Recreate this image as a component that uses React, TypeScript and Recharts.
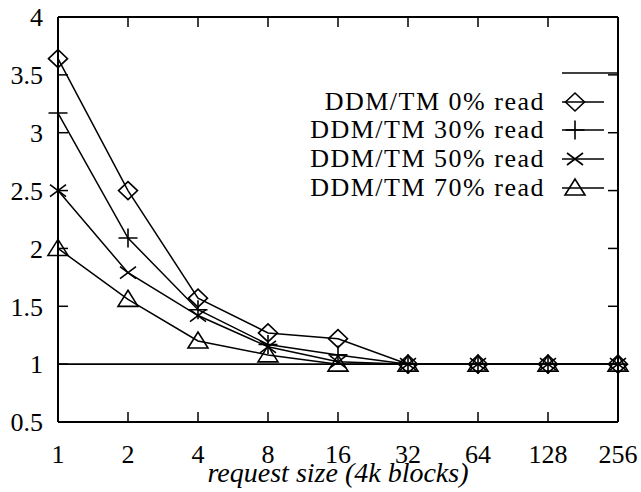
import React from 'react'
import { LineChart, Line, XAxis, YAxis, ReferenceLine, Legend, Label } from 'recharts'

const SIZES = ['1', '2', '4', '8', '16', '32', '64', '128', '256']
const READ_0 = [3.64, 2.5, 1.57, 1.27, 1.22, 1.0, 1.0, 1.0, 1.0]
const READ_30 = [3.17, 2.09, 1.47, 1.17, 1.08, 1.0, 1.0, 1.0, 1.0]
const READ_50 = [2.5, 1.79, 1.42, 1.15, 1.02, 1.0, 1.0, 1.0, 1.0]
const READ_70 = [2.0, 1.56, 1.2, 1.08, 1.0, 1.0, 1.0, 1.0, 1.0]
const BASELINE = [1, 1, 1, 1, 1, 1, 1, 1, 1]
const Y_TICKS = [0.5, 1, 1.5, 2, 2.5, 3, 3.5, 4]

const SERIES: { key: string; label: string; shape: string }[] = [
  { key: 'r0', label: 'DDM/TM 0% read', shape: 'diamond' },
  { key: 'r30', label: 'DDM/TM 30% read', shape: 'plus' },
  { key: 'r50', label: 'DDM/TM 50% read', shape: 'cross' },
  { key: 'r70', label: 'DDM/TM 70% read', shape: 'triangle' },
]

const FONT = 'Liberation Serif, serif'
const INK = '#000'

const data = SIZES.map((s, i) => ({
  idx: i,
  size: s,
  r0: READ_0[i],
  r30: READ_30[i],
  r50: READ_50[i],
  r70: READ_70[i],
  base: BASELINE[i],
}))

// hollow gnuplot-ish point types
function Marker({ shape, cx, cy }: { shape: string; cx: number; cy: number }) {
  const p = { fill: 'none', stroke: INK, strokeWidth: 1.6 }
  if (shape === 'diamond') return <path d={`M${cx - 9.5},${cy} L${cx},${cy - 9} L${cx + 9.5},${cy} L${cx},${cy + 9} Z`} {...p} />
  if (shape === 'plus') return <path d={`M${cx - 9.5},${cy} H${cx + 9.5} M${cx},${cy - 9.5} V${cy + 9.5}`} {...p} />
  if (shape === 'cross') return <path d={`M${cx - 8},${cy - 6} L${cx + 8},${cy + 6} M${cx - 8},${cy + 6} L${cx + 8},${cy - 6}`} {...p} />
  return <path d={`M${cx - 10},${cy + 7} L${cx + 10},${cy + 7} L${cx},${cy - 9} Z`} {...p} />
}

function KeyBox() {
  const rows = [{ label: '', shape: '' }, ...SERIES]
  return (
    <div style={{ fontFamily: FONT, fontSize: 26, color: INK }}>
      {rows.map((r, i) => {
        // the unlabeled y = 1 entry: its sample runs up to the frame
        const w = r.shape ? 42 : 55
        return (
          <div
            key={i}
            style={{ display: 'flex', alignItems: 'center', justifyContent: 'flex-end', height: 28.6, marginRight: 42 - w }}
          >
            <span style={{ marginRight: 17, letterSpacing: 1.5, lineHeight: '28px', whiteSpace: 'nowrap' }}>{r.label}</span>
            <svg width={w} height={28} style={{ display: 'block' }}>
              <line x1={0} x2={w} y1={14} y2={14} stroke={INK} strokeWidth={1.6} />
              {r.shape && <Marker shape={r.shape} cx={13} cy={14} />}
            </svg>
          </div>
        )
      })}
    </div>
  )
}

const TICK_X = 0.143
const TICK_Y = 0.087

export default function App() {
  const inner = SIZES.map((_, i) => i).filter((i) => i > 0 && i < SIZES.length - 1)
  const innerY = Y_TICKS.slice(1, -1)

  return (
    <div style={{ position: 'absolute', left: 0, top: 0, background: '#fff' }}>
      <LineChart width={641} height={492} data={data} margin={{ top: 17, right: 23, bottom: 0, left: 0 }}>
        <XAxis
          dataKey="idx"
          type="number"
          domain={[0, SIZES.length - 1]}
          ticks={SIZES.map((_, i) => i)}
          tickFormatter={(i) => SIZES[i]}
          tickLine={false}
          tickSize={0}
          tickMargin={23}
          height={70}
          axisLine={{ stroke: INK, strokeWidth: 2 }}
          tick={{ fill: INK, fontSize: 26, fontFamily: FONT }}
        >
          <Label
            value="request size (4k blocks)"
            position="insideBottom"
            offset={10}
            style={{ fill: INK, fontSize: 28, fontStyle: 'italic', fontFamily: FONT }}
          />
        </XAxis>
        <YAxis
          type="number"
          domain={[0.5, 4]}
          ticks={Y_TICKS}
          tickFormatter={(v) => String(v)}
          tickLine={false}
          tickSize={0}
          tickMargin={15}
          width={58}
          axisLine={{ stroke: INK, strokeWidth: 2 }}
          tick={{ fill: INK, fontSize: 26, fontFamily: FONT }}
        />

        {/* frame: top + right */}
        <ReferenceLine y={4} stroke={INK} strokeWidth={2} />
        <ReferenceLine x={SIZES.length - 1} stroke={INK} strokeWidth={2} />

        {/* inward ticks on all four sides */}
        {inner.map((i) => (
          <ReferenceLine key={`b${i}`} segment={[{ x: i, y: 0.5 }, { x: i, y: 0.5 + TICK_Y }]} stroke={INK} strokeWidth={1.5} />
        ))}
        {inner.map((i) => (
          <ReferenceLine key={`t${i}`} segment={[{ x: i, y: 4 }, { x: i, y: 4 - TICK_Y }]} stroke={INK} strokeWidth={1.5} />
        ))}
        {innerY.map((v) => (
          <ReferenceLine key={`l${v}`} segment={[{ x: 0, y: v }, { x: TICK_X, y: v }]} stroke={INK} strokeWidth={1.5} />
        ))}
        {innerY.map((v) => (
          <ReferenceLine
            key={`r${v}`}
            segment={[{ x: SIZES.length - 1, y: v }, { x: SIZES.length - 1 - TICK_X, y: v }]}
            stroke={INK}
            strokeWidth={1.5}
          />
        ))}

        <Line dataKey="base" stroke={INK} strokeWidth={1.6} dot={false} isAnimationActive={false} />
        {SERIES.map((s) => (
          <Line
            key={s.key}
            dataKey={s.key}
            stroke={INK}
            strokeWidth={1.5}
            isAnimationActive={false}
            dot={(p: any) => <Marker key={`${s.key}-${p.index}`} shape={s.shape} cx={p.cx} cy={p.cy} />}
          />
        ))}

        <Legend
          layout="vertical"
          align="center"
          verticalAlign="middle"
          wrapperStyle={{ top: 59, left: 0, width: 604 }}
          content={() => <KeyBox />}
        />
      </LineChart>
    </div>
  )
}
